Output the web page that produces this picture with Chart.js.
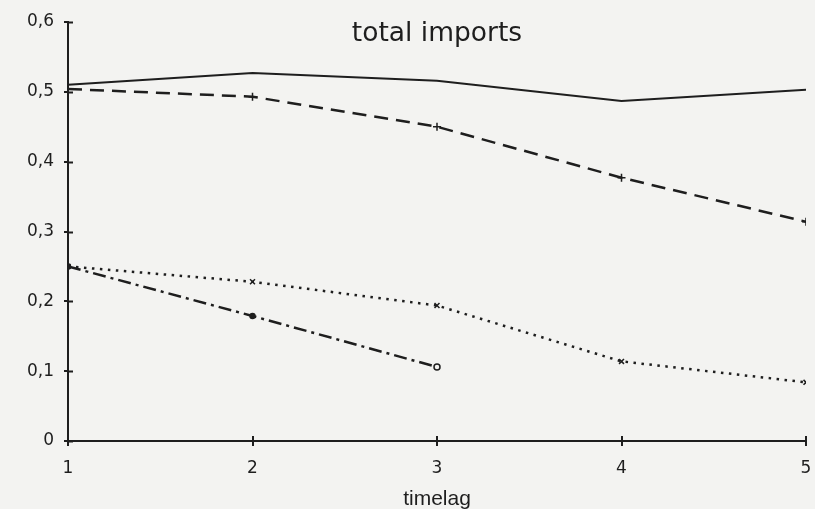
<!DOCTYPE html>
<html>
<head>
<meta charset="utf-8">
<script src="https://cdn.jsdelivr.net/npm/chart.js@4/dist/chart.umd.min.js"></script>
<style>
  html, body { margin: 0; padding: 0; background: #f3f3f1; }
  #wrap { width: 815px; height: 509px; }
</style>
</head>
<body>
<div id="wrap"><canvas id="c" width="815" height="509"></canvas></div>
<script>
// Time lags on the horizontal axis
const timelags = [1, 2, 3, 4, 5];
const yTicks = [0, 0.1, 0.2, 0.3, 0.4, 0.5, 0.6];

// Four elasticity paths for total imports
const seriesSolid   = [0.510, 0.527, 0.516, 0.487, 0.503];
const seriesDashed  = [0.504, 0.493, 0.450, 0.377, 0.314];
const seriesDotted  = [0.250, 0.228, 0.194, 0.114, 0.084];
const seriesDashDot = [0.250, 0.179, 0.106];

const ink = '#1e1e1e';
const paper = '#f3f3f1';
const toPoints = vals => vals.map((v, i) => ({ x: timelags[i], y: v }));

// Title drawn inside the plot area, plus the inner half of the axis ticks
const overlay = {
  id: 'overlay',
  afterDraw(chart) {
    const { ctx, scales: { x, y }, chartArea } = chart;
    ctx.save();
    ctx.strokeStyle = ink;
    ctx.lineWidth = 2;
    ctx.beginPath();
    yTicks.forEach(t => {
      const py = Math.round(y.getPixelForValue(t)) + 0.5;
      ctx.moveTo(chartArea.left, py);
      ctx.lineTo(chartArea.left + 5, py);
    });
    timelags.forEach(t => {
      const px = Math.round(x.getPixelForValue(t));
      ctx.moveTo(px, chartArea.bottom);
      ctx.lineTo(px, chartArea.bottom - 5);
    });
    ctx.stroke();
    ctx.fillStyle = ink;
    ctx.font = '26.5px "DejaVu Sans"';
    ctx.textAlign = 'center';
    ctx.textBaseline = 'alphabetic';
    ctx.fillText('total imports', x.getPixelForValue(3), 41);
    ctx.restore();
  }
};

new Chart(document.getElementById('c'), {
  type: 'line',
  data: {
    datasets: [
      {
        data: toPoints(seriesSolid),
        borderColor: ink, borderWidth: 2, pointRadius: 0, tension: 0
      },
      {
        data: toPoints(seriesDashed),
        borderColor: ink, borderWidth: 2.5, borderDash: [14, 8],
        pointStyle: 'cross', pointRadius: [0, 4, 4, 4, 4],
        pointBorderColor: ink, pointBorderWidth: 1.5, tension: 0
      },
      {
        data: toPoints(seriesDotted),
        borderColor: ink, borderWidth: 2.5, borderDash: [2.5, 5.5],
        pointStyle: 'crossRot', pointRadius: 3.5,
        pointBorderColor: ink, pointBorderWidth: 1.5, tension: 0
      },
      {
        data: toPoints(seriesDashDot),
        borderColor: ink, borderWidth: 2.5, borderDash: [13, 5, 3, 5],
        pointStyle: 'circle', pointRadius: [2.5, 2.5, 3],
        pointBackgroundColor: [ink, ink, paper],
        pointBorderColor: ink, pointBorderWidth: 1.5, tension: 0
      }
    ]
  },
  options: {
    responsive: false,
    animation: false,
    layout: { padding: { left: 0, right: 9, top: 22, bottom: 0 } },
    plugins: { legend: { display: false }, title: { display: false }, tooltip: { enabled: false } },
    scales: {
      x: {
        type: 'linear', min: 1, max: 5,
        afterFit(s) { s.height = 68; s.paddingLeft = 0; s.paddingRight = 0; },
        afterBuildTicks(s) { s.ticks = timelags.map(v => ({ value: v })); },
        border: { display: true, color: ink, width: 2 },
        grid: { drawOnChartArea: false, tickLength: 5, color: ink, lineWidth: 2 },
        ticks: { color: ink, font: { family: 'DejaVu Sans', size: 17 }, padding: 12 },
        title: {
          display: true, text: 'timelag', color: ink,
          font: { family: 'Liberation Sans', size: 21, lineHeight: 1 },
          padding: { top: 0, bottom: -1 }
        }
      },
      y: {
        min: 0, max: 0.6,
        afterFit(s) { s.width = 68; },
        afterBuildTicks(s) { s.ticks = yTicks.map(v => ({ value: v })); },
        border: { display: true, color: ink, width: 2 },
        grid: { drawOnChartArea: false, tickLength: 4, color: ink, lineWidth: 2 },
        ticks: {
          color: ink, font: { family: 'DejaVu Sans', size: 17 }, padding: 10,
          callback: v => v === 0 ? '0' : v.toFixed(1).replace('.', ',')
        }
      }
    }
  },
  plugins: [overlay]
});
</script>
</body>
</html>
